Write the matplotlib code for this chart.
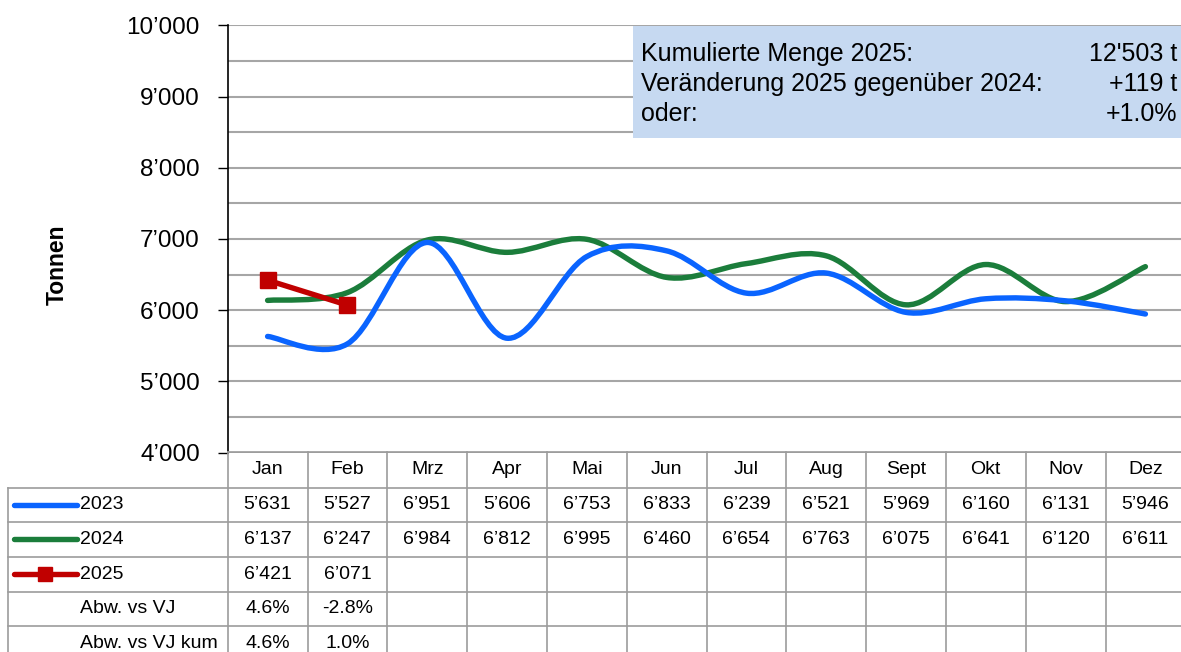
import numpy as np
import matplotlib
matplotlib.use("Agg")
import matplotlib.pyplot as plt
from matplotlib.path import Path
from matplotlib.patches import PathPatch, Rectangle

plt.rcParams['font.family'] = ['Liberation Sans', 'DejaVu Sans']

# data
months = ['Jan', 'Feb', 'Mrz', 'Apr', 'Mai', 'Jun', 'Jul', 'Aug', 'Sept', 'Okt', 'Nov', 'Dez']
v2023 = [5631, 5527, 6951, 5606, 6753, 6833, 6239, 6521, 5969, 6160, 6131, 5946]
v2024 = [6137, 6247, 6984, 6812, 6995, 6460, 6654, 6763, 6075, 6641, 6120, 6611]
v2025 = [6421, 6071]
abw_vj = ['4.6%', '-2.8%']
abw_vj_kum = ['4.6%', '1.0%']
y_ticks = [4000, 5000, 6000, 7000, 8000, 9000, 10000]
info_labels = ['Kumulierte Menge 2025:', 'Veränderung 2025 gegenüber 2024:', 'oder:']
info_values = ["12'503 t", '+119 t', '+1.0%']

c2023 = '#0A64FF'
c2024 = '#1B7D3B'
c2025 = '#C00000'
grid_c = '#A6A6A6'

W, H = 1181, 652
fig = plt.figure(figsize=(W / 100, H / 100), dpi=100)

# plot area in pixels
left, right, top, bottom = 227.7, 1185.3, 25.3, 452.6
ax = fig.add_axes([left / W, 1 - bottom / H, (right - left) / W, (bottom - top) / H])
ax.set_xlim(-0.5, 11.5)
ax.set_ylim(4000, 10000)


def fmt(v):
    return f"{v:,}".replace(',', '\u2019')


def smooth_path(xs, ys):
    # excel-like smoothed line: cubic bezier with catmull-rom control points
    pts = np.column_stack([xs, ys]).astype(float)
    n = len(pts)
    verts = [pts[0]]
    codes = [Path.MOVETO]
    for i in range(n - 1):
        p0 = pts[i - 1] if i > 0 else pts[i]
        p1 = pts[i]
        p2 = pts[i + 1]
        p3 = pts[i + 2] if i + 2 < n else pts[i + 1]
        verts += [p1 + (p2 - p0) / 6, p2 - (p3 - p1) / 6, p2]
        codes += [Path.CURVE4] * 3
    return Path(verts, codes)


x = np.arange(len(months))
ax.add_patch(PathPatch(smooth_path(x, v2024), fill=False, edgecolor=c2024, lw=3.9,
                       capstyle='round', zorder=3))
ax.add_patch(PathPatch(smooth_path(x, v2023), fill=False, edgecolor=c2023, lw=3.9,
                       capstyle='round', zorder=3))
ax.plot(x[:len(v2025)], v2025, color=c2025, lw=3.9, marker='s', ms=11.5, zorder=4)

ax.set_yticks(y_ticks)
ax.set_yticks(np.arange(4500, 10000, 1000), minor=True)
ax.set_yticklabels([fmt(t) for t in y_ticks], fontsize=17.5)
ax.tick_params(axis='y', which='major', length=7, width=1, pad=13, color='black')
ax.tick_params(axis='y', which='minor', length=0)
ax.set_xticks([])
ax.grid(axis='y', which='both', color=grid_c, lw=1.5)
ax.set_axisbelow(True)
for s in ['top', 'right', 'bottom']:
    ax.spines[s].set_visible(False)
ax.spines['left'].set_linewidth(1.2)

# overlay in pixel coordinates for table, box and label
tab = fig.add_axes([0, 0, 1, 1])
tab.set_xlim(0, W)
tab.set_ylim(H, 0)
tab.axis('off')

tab.text(57, 265, 'Tonnen', rotation=90, fontsize=16.5, fontweight='bold',
         ha='center', va='center')

# info box
tab.add_patch(Rectangle((632.6, 26), 560, 112, facecolor='#C6D9F1', edgecolor='none'))
for lab, val, yb in zip(info_labels, info_values, [61, 91, 121]):
    tab.text(641, yb, lab, fontsize=18, ha='left', va='baseline')
    tab.text(1177, yb, val, fontsize=18, ha='right', va='baseline')

# data table
col_w = 79.8
tl = 227.7
rows_y = [452.3, 487.7, 521.7, 556.7, 591.7, 626.0, 661.0]
lc = '#9C9C9C'
tab.plot([tl, W + 10], [rows_y[0]] * 2, color=lc, lw=1.2)
for yy in rows_y[1:-1]:
    tab.plot([8, W + 10], [yy, yy], color=lc, lw=1.2)
tab.plot([8, 8], [rows_y[1], H + 5], color=lc, lw=1.2)
for k in range(len(months) + 1):
    xx = tl + k * col_w
    tab.plot([xx, xx], [rows_y[0], H + 5], color=lc, lw=1.2)

centers = [(a + b) / 2 for a, b in zip(rows_y[:-1], rows_y[1:])]
fs = 14
for i, m in enumerate(months):
    cx = tl + (i + 0.5) * col_w
    tab.text(cx, centers[0], m, fontsize=fs, ha='center', va='center')
    tab.text(cx, centers[1], fmt(v2023[i]), fontsize=fs, ha='center', va='center')
    tab.text(cx, centers[2], fmt(v2024[i]), fontsize=fs, ha='center', va='center')
for i, v in enumerate(v2025):
    cx = tl + (i + 0.5) * col_w
    tab.text(cx, centers[3], fmt(v), fontsize=fs, ha='center', va='center')
    tab.text(cx, centers[4], abw_vj[i], fontsize=fs, ha='center', va='center')
    tab.text(cx, centers[5], abw_vj_kum[i], fontsize=fs, ha='center', va='center')

# legend keys in the table
for ci, name, col in zip([1, 2, 3], ['2023', '2024', '2025'], [c2023, c2024, c2025]):
    tab.plot([14, 77], [centers[ci]] * 2, color=col, lw=3.9, solid_capstyle='round')
    tab.text(80, centers[ci], name, fontsize=fs, ha='left', va='center')
tab.plot([45], [centers[3]], marker='s', ms=9.5, color=c2025)
tab.text(80, centers[4], 'Abw. vs VJ', fontsize=fs, ha='left', va='center')
tab.text(80, centers[5], 'Abw. vs VJ kum', fontsize=fs, ha='left', va='center')

fig.savefig('out.png', dpi=100)
